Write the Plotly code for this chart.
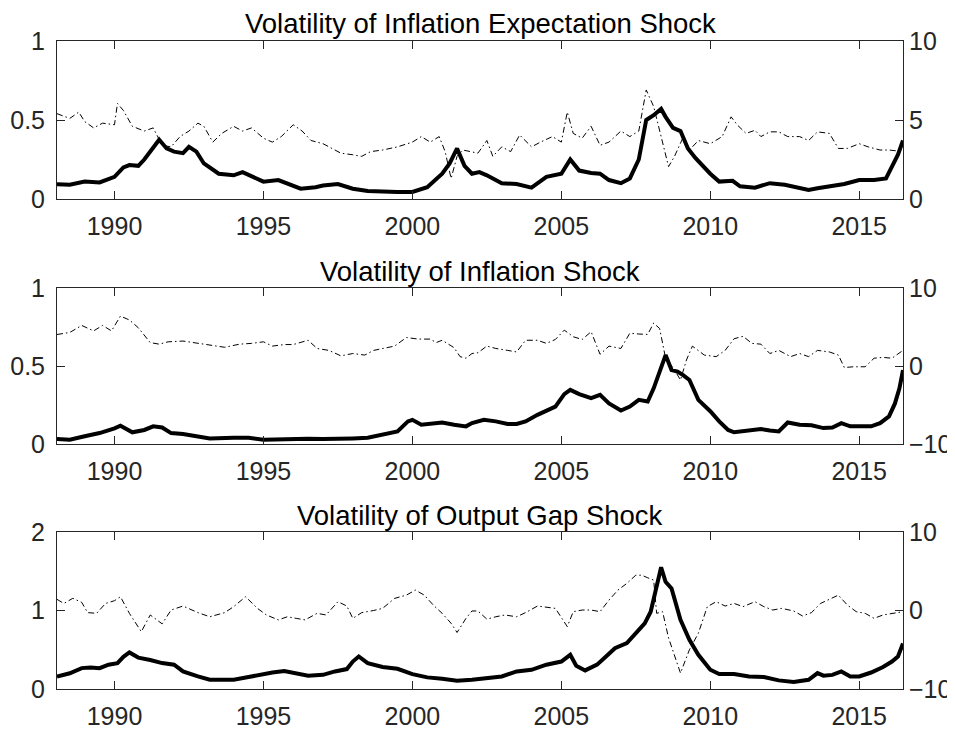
import plotly.graph_objects as go

# ---- data (year, value) ----
# panel 1: inflation expectation shock
exp_vol_x = [1988.07, 1988.5, 1989.0, 1989.5, 1990.0, 1990.3, 1990.5, 1990.8, 1991.0, 1991.3, 1991.5, 1991.75,
             1992.0, 1992.3, 1992.5, 1992.75, 1993.0, 1993.5, 1994.0, 1994.3, 1994.75, 1995.0, 1995.5, 1996.0,
             1996.25, 1996.75, 1997.0, 1997.5, 1998.0, 1998.5, 1999.0, 1999.5, 2000.0, 2000.5, 2001.0, 2001.25,
             2001.5, 2001.75, 2002.0, 2002.25, 2002.5, 2003.0, 2003.5, 2004.0, 2004.5, 2005.0, 2005.3, 2005.6,
             2006.0, 2006.3, 2006.6, 2007.0, 2007.3, 2007.6, 2007.85, 2008.1, 2008.35, 2008.5, 2008.75, 2009.0,
             2009.25, 2009.5, 2010.0, 2010.3, 2010.75, 2011.0, 2011.5, 2012.0, 2012.5, 2013.0, 2013.3, 2013.6,
             2014.0, 2014.5, 2015.0, 2015.5, 2015.9, 2016.1, 2016.3, 2016.47]
exp_vol_y = [0.093, 0.09, 0.11, 0.105, 0.14, 0.2, 0.215, 0.21, 0.25, 0.33, 0.375, 0.32,
             0.30, 0.29, 0.33, 0.30, 0.225, 0.16, 0.15, 0.17, 0.13, 0.11, 0.12, 0.08,
             0.065, 0.075, 0.085, 0.095, 0.065, 0.05, 0.045, 0.045, 0.045, 0.075, 0.16, 0.225,
             0.32, 0.21, 0.16, 0.17, 0.15, 0.10, 0.095, 0.072, 0.14, 0.16, 0.25, 0.18,
             0.165, 0.16, 0.12, 0.10, 0.13, 0.25, 0.50, 0.53, 0.57, 0.52, 0.45, 0.43,
             0.32, 0.26, 0.16, 0.11, 0.115, 0.08, 0.072, 0.10, 0.09, 0.068, 0.057, 0.068,
             0.078, 0.095, 0.12, 0.12, 0.13, 0.205, 0.28, 0.37]
exp_lvl_x = [1988.07, 1988.5, 1988.8, 1989.0, 1989.3, 1989.6, 1990.0, 1990.1, 1990.3, 1990.6, 1991.0, 1991.3,
             1991.6, 1991.9, 1992.2, 1992.5, 1992.8, 1993.0, 1993.3, 1993.6, 1994.0, 1994.3, 1994.6, 1995.0,
             1995.3, 1995.6, 1996.0, 1996.3, 1996.6, 1997.0, 1997.3, 1997.6, 1998.0, 1998.3, 1998.6, 1999.0,
             1999.5, 2000.0, 2000.3, 2000.6, 2000.9, 2001.1, 2001.3, 2001.5, 2001.7, 2002.0, 2002.2, 2002.5,
             2002.7, 2003.0, 2003.3, 2003.6, 2004.0, 2004.3, 2004.7, 2005.0, 2005.2, 2005.4, 2005.7, 2006.0,
             2006.3, 2006.6, 2007.0, 2007.3, 2007.6, 2007.85, 2008.1, 2008.35, 2008.6, 2008.8, 2009.1, 2009.3,
             2009.6, 2010.0, 2010.4, 2010.7, 2010.9, 2011.2, 2011.5, 2011.7, 2012.0, 2012.3, 2012.6, 2013.0,
             2013.3, 2013.6, 2014.0, 2014.3, 2014.6, 2015.0, 2015.3, 2015.7, 2016.0, 2016.47]
exp_lvl_y = [5.4, 5.1, 5.5, 4.9, 4.5, 4.8, 4.7, 6.05, 5.6, 4.6, 4.3, 4.5,
             3.4, 3.3, 3.95, 4.3, 4.8, 4.6, 3.6, 4.15, 4.6, 4.3, 4.5, 3.85,
             3.6, 3.95, 4.7, 4.3, 3.7, 3.5, 3.2, 2.9, 2.8, 2.7, 3.0, 3.1,
             3.3, 3.6, 3.95, 3.6, 3.95, 3.0, 1.3, 2.7, 3.1, 3.0, 2.9, 3.7,
             2.7, 3.3, 3.0, 4.05, 3.3, 3.6, 3.95, 3.6, 5.5, 4.15, 3.85, 4.6,
             3.4, 3.6, 4.3, 3.95, 4.3, 6.9, 5.85, 3.95, 2.05, 2.7, 3.95, 3.1,
             3.7, 3.5, 3.95, 5.2, 4.7, 4.15, 4.35, 3.95, 4.25, 4.25, 3.95, 3.95,
             3.7, 4.25, 4.15, 3.2, 3.2, 3.5, 3.3, 3.1, 3.1, 3.0]

# panel 2: inflation shock
inf_vol_x = [1988.07, 1988.5, 1989.0, 1989.5, 1990.0, 1990.2, 1990.6, 1991.0, 1991.3, 1991.6, 1991.9, 1992.3,
             1992.75, 1993.2, 1994.0, 1994.5, 1995.0, 1995.5, 1996.0, 1996.5, 1997.0, 1997.5, 1998.0, 1998.5,
             1999.0, 1999.5, 1999.85, 2000.0, 2000.3, 2000.7, 2001.0, 2001.4, 2001.8, 2002.0, 2002.4, 2002.8,
             2003.2, 2003.5, 2003.8, 2004.2, 2004.6, 2004.8, 2005.1, 2005.3, 2005.6, 2006.0, 2006.3, 2006.6,
             2007.0, 2007.3, 2007.6, 2007.9, 2008.1, 2008.5, 2008.7, 2008.9, 2009.1, 2009.3, 2009.6, 2010.0,
             2010.3, 2010.6, 2010.8, 2011.3, 2011.7, 2012.0, 2012.3, 2012.6, 2013.0, 2013.4, 2013.8, 2014.1,
             2014.4, 2014.7, 2015.0, 2015.4, 2015.7, 2016.0, 2016.2, 2016.35, 2016.47]
inf_vol_y = [0.032, 0.028, 0.05, 0.07, 0.10, 0.117, 0.075, 0.09, 0.113, 0.106, 0.07, 0.064,
             0.05, 0.036, 0.04, 0.04, 0.028, 0.032, 0.034, 0.034, 0.032, 0.032, 0.036, 0.04,
             0.06, 0.08, 0.145, 0.155, 0.123, 0.128, 0.138, 0.123, 0.113, 0.134, 0.155, 0.145,
             0.128, 0.128, 0.145, 0.187, 0.223, 0.24, 0.32, 0.347, 0.32, 0.294, 0.315, 0.26,
             0.215, 0.24, 0.283, 0.272, 0.357, 0.57, 0.474, 0.464, 0.44, 0.41, 0.283, 0.21,
             0.145, 0.09, 0.075, 0.09, 0.096, 0.087, 0.08, 0.138, 0.123, 0.12, 0.102, 0.106,
             0.134, 0.113, 0.113, 0.113, 0.134, 0.177, 0.26, 0.357, 0.474]
inf_lvl_x = [1988.07, 1988.5, 1988.9, 1989.3, 1989.6, 1989.9, 1990.2, 1990.5, 1990.8, 1991.2, 1991.5, 1991.8,
             1992.3, 1992.8, 1993.3, 1993.7, 1994.2, 1994.6, 1995.0, 1995.3, 1995.7, 1996.0, 1996.5, 1996.8,
             1997.2, 1997.6, 1998.0, 1998.4, 1998.7, 1999.0, 1999.4, 1999.8, 2000.2, 2000.6, 2000.8, 2001.0,
             2001.4, 2001.6, 2001.8, 2002.0, 2002.2, 2002.5, 2002.8, 2003.2, 2003.5, 2003.8, 2004.2, 2004.5,
             2004.8, 2005.1, 2005.4, 2005.7, 2006.0, 2006.3, 2006.6, 2007.0, 2007.3, 2007.6, 2007.9, 2008.1,
             2008.3, 2008.5, 2008.8, 2009.0, 2009.2, 2009.4, 2009.8, 2010.2, 2010.5, 2010.8, 2011.1, 2011.4,
             2011.7, 2012.0, 2012.3, 2012.7, 2013.0, 2013.3, 2013.6, 2014.0, 2014.3, 2014.5, 2014.8, 2015.2,
             2015.5, 2015.8, 2016.1, 2016.47]
inf_lvl_y = [4.04, 4.3, 5.2, 4.5, 5.2, 4.5, 6.4, 5.9, 4.9, 3.0, 2.8, 3.1,
             3.2, 2.9, 2.55, 2.4, 2.8, 2.9, 3.1, 2.55, 2.75, 2.75, 3.3, 2.25,
             2.0, 1.3, 1.6, 1.4, 2.0, 2.2, 2.55, 3.65, 3.45, 3.45, 3.0, 3.3,
             2.35, 1.2, 1.0, 1.6, 1.7, 2.55, 2.25, 2.0, 1.8, 3.3, 3.3, 2.9,
             3.4, 4.6, 3.75, 3.4, 4.4, 1.5, 2.55, 2.25, 4.2, 4.1, 4.05, 5.5,
             4.8, 1.0, -0.5, -1.8, 0.77, 2.55, 1.4, 1.2, 2.0, 3.5, 3.8, 2.9,
             2.8, 1.6, 2.0, 1.2, 1.6, 1.2, 2.0, 1.8, 1.4, -0.2, -0.1, -0.1,
             1.0, 1.1, 1.0, 2.0]

# panel 3: output gap shock
gap_vol_x = [1988.07, 1988.5, 1988.9, 1989.2, 1989.5, 1989.8, 1990.1, 1990.3, 1990.5, 1990.8, 1991.2, 1991.6,
             1992.0, 1992.3, 1992.8, 1993.2, 1993.6, 1994.0, 1994.5, 1995.0, 1995.3, 1995.7, 1996.0, 1996.5,
             1997.0, 1997.4, 1997.8, 1998.0, 1998.2, 1998.5, 1999.0, 1999.5, 2000.0, 2000.5, 2001.0, 2001.5,
             2002.0, 2002.5, 2003.0, 2003.5, 2004.0, 2004.5, 2005.0, 2005.3, 2005.5, 2005.8, 2006.2, 2006.5,
             2006.8, 2007.2, 2007.5, 2007.8, 2008.0, 2008.2, 2008.35, 2008.5, 2008.7, 2009.0, 2009.3, 2009.6,
             2010.0, 2010.3, 2010.8, 2011.3, 2011.8, 2012.3, 2012.8, 2013.3, 2013.6, 2013.8, 2014.1, 2014.4,
             2014.7, 2015.0, 2015.4, 2015.8, 2016.1, 2016.3, 2016.47]
gap_vol_y = [0.16, 0.2, 0.266, 0.275, 0.266, 0.31, 0.33, 0.41, 0.465, 0.40, 0.37, 0.33,
             0.31, 0.224, 0.16, 0.118, 0.118, 0.118, 0.152, 0.19, 0.21, 0.23, 0.21, 0.17,
             0.18, 0.224, 0.254, 0.35, 0.414, 0.33, 0.28, 0.258, 0.19, 0.148, 0.131, 0.106,
             0.118, 0.14, 0.16, 0.224, 0.245, 0.31, 0.35, 0.435, 0.296, 0.237, 0.31, 0.414,
             0.52, 0.584, 0.71, 0.837, 0.985, 1.28, 1.55, 1.366, 1.28, 0.88, 0.626, 0.435,
             0.245, 0.19, 0.19, 0.16, 0.152, 0.11, 0.089, 0.118, 0.203, 0.17, 0.18, 0.224,
             0.16, 0.16, 0.21, 0.28, 0.35, 0.414, 0.58]
gap_lvl_x = [1988.07, 1988.3, 1988.6, 1988.9, 1989.1, 1989.4, 1989.7, 1990.0, 1990.2, 1990.5, 1990.9, 1991.2,
             1991.6, 1991.9, 1992.3, 1992.8, 1993.2, 1993.7, 1994.0, 1994.4, 1994.8, 1995.1, 1995.5, 1995.8,
             1996.1, 1996.4, 1996.8, 1997.1, 1997.5, 1997.8, 1998.0, 1998.3, 1998.7, 1999.0, 1999.4, 1999.8,
             2000.1, 2000.4, 2000.7, 2001.0, 2001.3, 2001.5, 2001.8, 2002.0, 2002.2, 2002.5, 2002.8, 2003.1,
             2003.5, 2003.8, 2004.2, 2004.6, 2004.8, 2005.2, 2005.4, 2005.7, 2006.0, 2006.3, 2006.6, 2006.9,
             2007.2, 2007.5, 2007.7, 2007.9, 2008.1, 2008.2, 2008.4, 2008.6, 2008.9, 2009.0, 2009.3, 2009.6,
             2009.9, 2010.2, 2010.5, 2010.8, 2011.1, 2011.5, 2011.8, 2012.1, 2012.4, 2012.8, 2013.1, 2013.4,
             2013.7, 2014.0, 2014.3, 2014.6, 2014.9, 2015.2, 2015.5, 2015.8, 2016.1, 2016.47]
gap_lvl_y = [1.42, 0.9, 1.55, 1.04, -0.27, -0.36, 0.9, 1.25, 1.75, -0.36, -2.7, -0.57,
             -1.7, 0.06, 0.57, -0.27, -0.8, -0.27, 0.49, 1.75, 0.27, -0.57, -1.2, -0.8,
             -1.0, -1.2, -0.36, -0.57, 1.12, 0.57, -1.0, -0.27, 0.0, 0.27, 1.54, 1.96,
             2.6, 1.96, 0.7, -0.36, -1.63, -2.8, -1.0, -0.06, -0.06, -1.1, -0.8, -0.57,
             -0.8, -0.27, 0.57, 0.36, 0.27, -2.05, -0.15, 0.06, 0.06, -0.15, 1.33, 2.6,
             3.45, 4.5, 4.5, 4.17, 3.87, -0.36, -0.15, -3.5, -6.7, -7.97, -5.0, -2.9,
             0.49, 1.12, 0.57, 0.9, 0.49, 1.12, 0.49, 0.06, 0.27, -0.06, -0.7, -0.27,
             0.9, 1.42, 1.96, 0.7, -0.15, -0.36, -1.0, -0.57, -0.36, -0.15]

titles = ['Volatility of Inflation Expectation Shock', 'Volatility of Inflation Shock',
          'Volatility of Output Gap Shock']
year_ticks = [1990, 1995, 2000, 2005, 2010, 2015]
left_ticks = [[0, 0.5, 1], [0, 0.5, 1], [0, 1, 2]]
right_ticks = [[0, 5, 10], [-10, 0, 10], [-10, 0, 10]]

# page body adds an 8px margin, so the figure is drawn 8px in from the corner
OFF = 8
W, H = 955 - OFF, 733 - OFF
# panel boxes in page pixels (top, bottom)
boxes = [(41, 199), (288, 444), (532, 689)]
X0, X1 = 57, 903

def py(p):
    return 1 - (p - OFF) / H

def px(p):
    return (p - OFF) / W

axcol = '#262626'
fnt = 'Liberation Sans, Arial, sans-serif'

fig = go.Figure()
series = [(exp_vol_x, exp_vol_y, exp_lvl_x, exp_lvl_y),
          (inf_vol_x, inf_vol_y, inf_lvl_x, inf_lvl_y),
          (gap_vol_x, gap_vol_y, gap_lvl_x, gap_lvl_y)]

layout = {}
for i, (vx, vy, lx, ly) in enumerate(series):
    xa = 'x' if i == 0 else f'x{i+1}'
    yl = 'y' if i == 0 else f'y{2*i+1}'
    yr = f'y{2*i+2}'
    fig.add_trace(go.Scatter(x=lx, y=ly, xaxis=xa, yaxis=yr, mode='lines',
                             line=dict(color='black', width=1, dash='6px,3px,1.5px,3px'), showlegend=False))
    fig.add_trace(go.Scatter(x=vx, y=vy, xaxis=xa, yaxis=yl, mode='lines',
                             line=dict(color='black', width=4), showlegend=False))
    top, bot = boxes[i]
    dom = [py(bot), py(top)]
    tickfont = dict(family=fnt, size=25, color=axcol)
    layout[xa.replace('x', 'xaxis')] = dict(
        domain=[px(X0), px(X1)], anchor=yl, range=[1988.07, 2016.47], automargin=False,
        tickvals=year_ticks, ticks='inside', ticklen=8, tickcolor=axcol,
        showline=True, linecolor=axcol, linewidth=1, mirror='ticks',
        showgrid=False, zeroline=False, tickfont=tickfont, ticklabelstandoff=5)
    lt = left_ticks[i]
    layout[yl.replace('y', 'yaxis')] = dict(
        domain=dom, anchor=xa, range=[lt[0], lt[-1]], tickvals=lt, automargin=False,
        ticktext=[f'{v:g}' for v in lt],
        ticks='inside', ticklen=8, tickcolor=axcol, showline=True, linecolor=axcol,
        linewidth=1, showgrid=False, zeroline=False, tickfont=tickfont, ticklabelstandoff=6)
    rt = right_ticks[i]
    layout[yr.replace('y', 'yaxis')] = dict(
        domain=dom, anchor=xa, overlaying=yl, side='right', range=[rt[0], rt[-1]], tickvals=rt,
        automargin=False,
        ticks='inside', ticklen=8, tickcolor=axcol, showline=True, linecolor=axcol,
        linewidth=1, showgrid=False, zeroline=False, tickfont=tickfont, ticklabelstandoff=0)

annotations = []
for i, t in enumerate(titles):
    top, bot = boxes[i]
    annotations.append(dict(text=t, x=px((X0 + X1) / 2), y=py(top - 17), xref='paper', yref='paper',
                            xanchor='center', yanchor='middle', showarrow=False,
                            font=dict(family=fnt, size=27.5, color='black')))

fig.update_layout(**layout)
fig.update_layout(width=W, height=H, margin=dict(l=0, r=0, t=0, b=0),
                  plot_bgcolor='white', paper_bgcolor='white', annotations=annotations,
                  font=dict(family=fnt, color=axcol))

fig.write_html("out.html")
